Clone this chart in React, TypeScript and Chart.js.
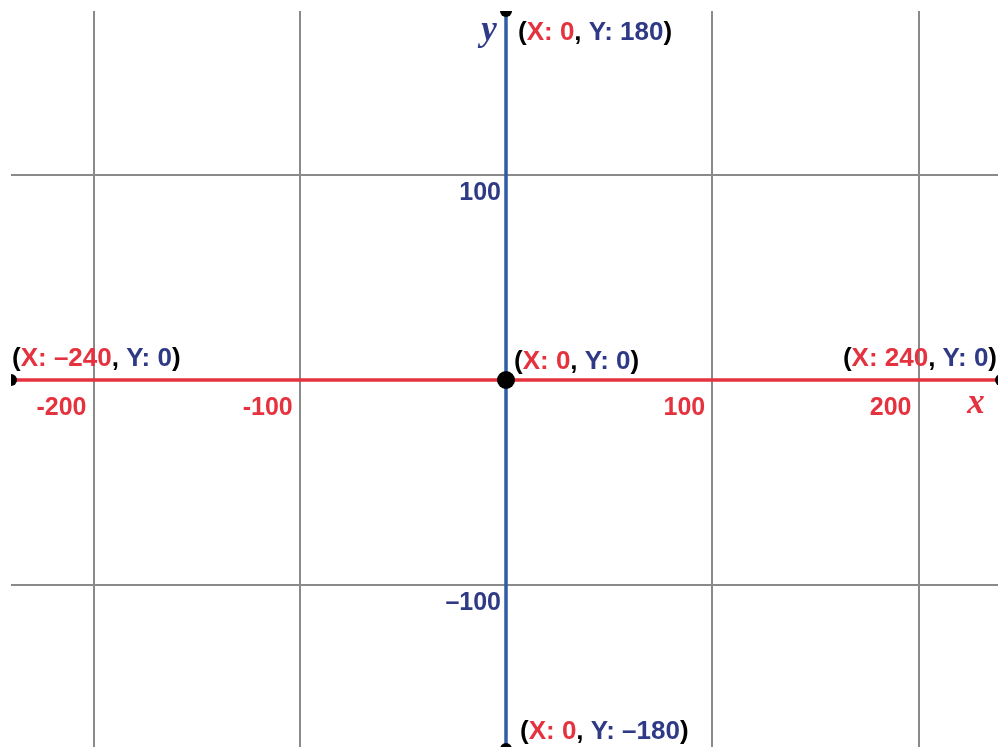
import React, { useEffect, useRef } from 'react';
import { Chart, registerables } from 'chart.js';

Chart.register(...registerables);

// ---- data ----
const X_MIN = -240;
const X_MAX = 240;
const Y_MIN = -180;
const Y_MAX = 180;
const X_GRID_VALUES = [-200, -100, 100, 200];
const X_TICK_LABELS = ['-200', '-100', '100', '200'];
const Y_GRID_VALUES = [-100, 100];
const Y_TICK_LABELS = ['–100', '100'];
const POINT_X = [0, -240, 240, 0, 0];
const POINT_Y = [0, 0, 0, 180, -180];
const X_AXIS_TITLE = 'x';
const Y_AXIS_TITLE = 'y';

// ---- style ----
const RED = '#e5323f';
const NAVY = '#2e3a86';
const BLUE = '#2f5ca6';
const GRAY = '#8a8a8a';
const BLACK = '#000000';
const TICK_FONT = 'bold 25px "Liberation Sans", Arial, sans-serif';
const LABEL_FONT = 'bold 26px "Liberation Sans", Arial, sans-serif';
const TITLE_FONT = 'italic bold 35px "Liberation Serif", "Times New Roman", serif';
// label placement per point: dx, dy (of text middle), align
const LABEL_PLACEMENT = [
  { dx: 8, dy: -18, align: 'left' },
  { dx: 1, dy: -21, align: 'left' },
  { dx: -4, dy: -21, align: 'right' },
  { dx: 12, dy: 22, align: 'left' },
  { dx: 14, dy: -17, align: 'left' },
];

const fmt = (v: number) => (v < 0 ? '–' + Math.abs(v) : String(v));

const labelsPlugin = {
  id: 'coordLabels',
  afterDatasetsDraw(chart: any) {
    const ctx = chart.ctx as CanvasRenderingContext2D;
    const xs = chart.scales.x;
    const ys = chart.scales.y;
    const x0 = xs.getPixelForValue(0);
    const y0 = ys.getPixelForValue(0);
    ctx.save();
    ctx.font = TICK_FONT;
    ctx.textBaseline = 'middle';

    // x tick labels
    ctx.fillStyle = RED;
    ctx.textAlign = 'right';
    X_GRID_VALUES.forEach((v, i) => {
      ctx.fillText(X_TICK_LABELS[i], xs.getPixelForValue(v) - 7, y0 + 28);
    });
    // y tick labels
    ctx.fillStyle = NAVY;
    Y_GRID_VALUES.forEach((v, i) => {
      ctx.fillText(Y_TICK_LABELS[i], x0 - 5, ys.getPixelForValue(v) + 18);
    });

    // point labels
    ctx.font = LABEL_FONT;
    ctx.textAlign = 'left';
    POINT_X.forEach((px, i) => {
      const segs: [string, string][] = [
        ['(', BLACK],
        ['X: ' + fmt(px), RED],
        [', ', BLACK],
        ['Y: ' + fmt(POINT_Y[i]), NAVY],
        [')', BLACK],
      ];
      const total = segs.reduce((s, [t]) => s + ctx.measureText(t).width, 0);
      const pl = LABEL_PLACEMENT[i];
      let cx = xs.getPixelForValue(px) + pl.dx;
      if (pl.align === 'right') cx -= total;
      const cy = ys.getPixelForValue(POINT_Y[i]) + pl.dy;
      segs.forEach(([t, c]) => {
        ctx.fillStyle = c;
        ctx.fillText(t, cx, cy);
        cx += ctx.measureText(t).width;
      });
    });

    // axis titles
    ctx.font = TITLE_FONT;
    ctx.textBaseline = 'alphabetic';
    ctx.textAlign = 'center';
    ctx.fillStyle = RED;
    ctx.fillText(X_AXIS_TITLE, xs.getPixelForValue(X_MAX) - 25, y0 + 33);
    ctx.fillStyle = NAVY;
    ctx.fillText(Y_AXIS_TITLE, x0 - 17, ys.getPixelForValue(Y_MAX) + 29);
    ctx.restore();
  },
};

export default function App() {
  const ref = useRef<HTMLCanvasElement | null>(null);
  useEffect(() => {
    if (!ref.current) return;
    const pts = POINT_X.map((x, i) => ({ x, y: POINT_Y[i] }));
    const chart = new Chart(ref.current, {
      type: 'scatter',
      data: {
        datasets: [
          {
            data: pts.slice(0, 1),
            pointRadius: 9,
            pointBackgroundColor: BLACK,
            pointBorderWidth: 0,
            showLine: false,
            clip: 0,
          } as any,
          {
            data: pts.slice(1),
            pointRadius: 6,
            pointBackgroundColor: BLACK,
            pointBorderWidth: 0,
            showLine: false,
            clip: 0,
          } as any,
          {
            data: [
              { x: 0, y: Y_MIN },
              { x: 0, y: Y_MAX },
            ],
            showLine: true,
            borderColor: BLUE,
            borderWidth: 3.5,
            pointRadius: 0,
            clip: 0,
          } as any,
          {
            data: [
              { x: X_MIN, y: 0 },
              { x: X_MAX, y: 0 },
            ],
            showLine: true,
            borderColor: RED,
            borderWidth: 3.5,
            pointRadius: 0,
            clip: 0,
          } as any,
        ],
      },
      options: {
        animation: false,
        responsive: false,
        events: [],
        layout: { autoPadding: false, padding: { left: 11, top: 11, right: 3, bottom: 3 } },
        plugins: { legend: { display: false }, tooltip: { enabled: false } },
        scales: {
          x: {
            type: 'linear',
            min: X_MIN,
            max: X_MAX,
            border: { display: false },
            ticks: { display: false },
            grid: { color: GRAY, lineWidth: 2, drawTicks: false },
            afterBuildTicks: (s: any) => {
              s.ticks = X_GRID_VALUES.map((v) => ({ value: v }));
            },
            afterFit: (s: any) => {
              s.height = 0;
            },
          },
          y: {
            type: 'linear',
            min: Y_MIN,
            max: Y_MAX,
            border: { display: false },
            ticks: { display: false },
            grid: { color: GRAY, lineWidth: 2, drawTicks: false },
            afterBuildTicks: (s: any) => {
              s.ticks = Y_GRID_VALUES.map((v) => ({ value: v }));
            },
            afterFit: (s: any) => {
              s.width = 0;
            },
          },
        },
      } as any,
      plugins: [labelsPlugin],
    });
    return () => chart.destroy();
  }, []);

  return (
    <div
      style={{
        position: 'fixed',
        left: 0,
        top: 0,
        width: 998,
        height: 747,
        overflow: 'hidden',
        background: '#fff',
      }}
    >
      <canvas ref={ref} width={1004} height={752} style={{ display: 'block', width: 1004, height: 752 }} />
    </div>
  );
}
